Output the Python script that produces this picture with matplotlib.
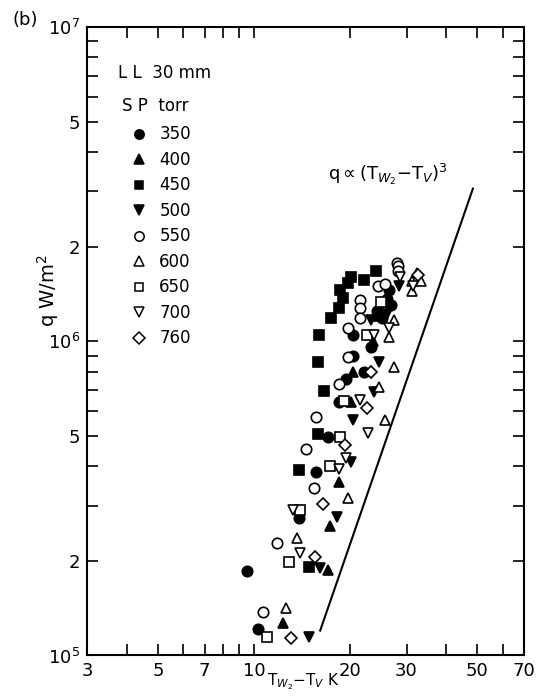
import matplotlib
matplotlib.use("Agg")
from matplotlib import pyplot as plt
from matplotlib.ticker import FixedLocator, FixedFormatter, NullFormatter
from matplotlib.lines import Line2D

# superheat T_W2 - T_V (K) and heat flux q (W/m2), one pair of lists per pressure
PRESSURES = ["350", "400", "450", "500", "550", "600", "650", "700", "760"]

dt_350 = [9.5, 10.3, 13.8, 15.6, 17.0, 18.4, 19.4, 20.4, 20.4, 22.1, 23.3, 25.1, 26.0, 26.5, 26.9, 24.2]
q_350 = [1.86e5, 1.21e5, 2.74e5, 3.84e5, 4.96e5, 6.42e5, 7.6e5, 9.0e5, 1.05e6, 8.0e5, 9.6e5, 1.19e6, 1.36e6, 1.46e6, 1.30e6, 1.25e6]

dt_400 = [12.3, 17.0, 17.3, 18.4, 20.1, 20.4, 23.5, 24.5, 26.0]
q_400 = [1.27e5, 1.87e5, 2.58e5, 3.57e5, 6.42e5, 8.0e5, 1.0e6, 1.2e6, 1.33e6]

dt_450 = [14.9, 13.8, 15.9, 16.6, 15.9, 16.0, 17.4, 18.4, 19.0, 18.6, 19.7, 20.1, 22.1, 24.0]
q_450 = [1.91e5, 3.9e5, 5.06e5, 6.94e5, 8.6e5, 1.045e6, 1.19e6, 1.28e6, 1.37e6, 1.46e6, 1.53e6, 1.60e6, 1.57e6, 1.67e6]

dt_500 = [14.9, 16.1, 18.2, 20.1, 20.4, 23.8, 24.6, 23.3, 28.5, 26.0]
q_500 = [1.145e5, 1.90e5, 2.76e5, 4.13e5, 5.62e5, 6.9e5, 8.6e5, 1.17e6, 1.50e6, 1.22e6]

dt_550 = [10.7, 11.8, 14.5, 15.4, 15.6, 18.4, 19.7, 19.7, 21.4, 21.4, 21.4, 24.5, 25.6, 28.1, 28.3, 28.3]
q_550 = [1.375e5, 2.28e5, 4.55e5, 3.42e5, 5.74e5, 7.32e5, 8.93e5, 1.10e6, 1.355e6, 1.28e6, 1.19e6, 1.50e6, 1.52e6, 1.78e6, 1.73e6, 1.67e6]

dt_600 = [12.6, 13.6, 19.7, 25.6, 24.6, 27.5, 26.5, 27.5, 32.3, 31.1, 33.2, 31.1]
q_600 = [1.42e5, 2.37e5, 3.17e5, 5.62e5, 7.16e5, 8.29e5, 1.033e6, 1.17e6, 1.65e6, 1.55e6, 1.55e6, 1.44e6]

dt_650 = [11.0, 12.9, 13.9, 17.3, 18.6, 19.1, 22.5, 25.0]
q_650 = [1.145e5, 1.99e5, 2.91e5, 4.02e5, 4.96e5, 6.47e5, 1.05e6, 1.33e6]

dt_700 = [13.9, 13.2, 18.5, 19.4, 21.4, 22.8, 23.7, 26.5, 28.7, 31.5]
q_700 = [2.12e5, 2.91e5, 3.93e5, 4.26e5, 6.51e5, 5.10e5, 1.045e6, 1.10e6, 1.60e6, 1.50e6]

dt_760 = [13.05, 15.5, 16.4, 19.3, 22.5, 23.3, 32.5]
q_760 = [1.14e5, 2.06e5, 3.04e5, 4.69e5, 6.14e5, 8.0e5, 1.62e6]

# q ~ (T_W2 - T_V)^3 guide line
line_dt = [16.1, 48.4]
line_q = [1.2e5, 3.06e6]

SERIES = [(dt_350, q_350), (dt_400, q_400), (dt_450, q_450), (dt_500, q_500),
          (dt_550, q_550), (dt_600, q_600), (dt_650, q_650), (dt_700, q_700),
          (dt_760, q_760)]
MARKERS = ["o", "^", "s", "v", "o", "^", "s", "v", "D"]
FILLED = [True, True, True, True, False, False, False, False, False]
SIZES = [7.5, 7.5, 6.5, 7.5, 7.5, 7.5, 6.5, 7.5, 6.5]

X_MAJOR = [3, 5, 7, 10, 20, 30, 50, 70]
X_MINOR = [4, 6, 8, 9, 40, 60]
Y_MAJOR = [1e5, 2e5, 5e5, 1e6, 2e6, 5e6, 1e7]
Y_LABELS = ["$10^5$", "2", "5", "$10^6$", "2", "5", "$10^7$"]
Y_MINOR = [3e5, 4e5, 6e5, 7e5, 8e5, 9e5, 3e6, 4e6, 6e6, 7e6, 8e6, 9e6]

plt.rcParams["font.family"] = "DejaVu Sans"
plt.rcParams["mathtext.fontset"] = "dejavusans"

fig = plt.figure(figsize=(5.37, 6.98), dpi=100)
ax = fig.add_axes([0.162, 0.0609, 0.814, 0.9004])
ax.set_xscale("log")
ax.set_yscale("log")
ax.set_xlim(3, 70)
ax.set_ylim(1e5, 1e7)

handles = []
for (xs, ys), m, filled, ms, p in zip(SERIES, MARKERS, FILLED, SIZES, PRESSURES):
  face = "black" if filled else "white"
  ax.plot(xs, ys, linestyle="none", marker=m, markersize=ms, markerfacecolor=face,
          markeredgecolor="black", markeredgewidth=1.2)
  handles.append(Line2D([], [], linestyle="none", marker=m, markersize=ms * 0.9,
                        markerfacecolor=face, markeredgecolor="black",
                        markeredgewidth=1.1, label=p))

ax.plot(line_dt, line_q, color="black", linewidth=1.5)

ax.text(17.0, 3.4e6, r"q$\propto$(T$_{W_2}$$-$T$_V$)$^3$", fontsize=13, va="center")
ax.text(0.07, 0.9275, "L L  30 mm", transform=ax.transAxes, fontsize=12, va="center")
ax.text(0.08, 0.875, "S P  torr", transform=ax.transAxes, fontsize=12, va="center")

leg = ax.legend(handles=handles, loc="upper left",
                bbox_to_anchor=(0.07, 0.862), frameon=False, fontsize=12,
                labelspacing=0.45, handletextpad=0.6,
                handlelength=1.2, borderpad=0.2)

ax.xaxis.set_major_locator(FixedLocator(X_MAJOR))
ax.xaxis.set_major_formatter(FixedFormatter([str(v) for v in X_MAJOR]))
ax.xaxis.set_minor_locator(FixedLocator(X_MINOR))
ax.xaxis.set_minor_formatter(NullFormatter())
ax.yaxis.set_major_locator(FixedLocator(Y_MAJOR))
ax.yaxis.set_major_formatter(FixedFormatter(Y_LABELS))
ax.yaxis.set_minor_locator(FixedLocator(Y_MINOR))
ax.yaxis.set_minor_formatter(NullFormatter())

ax.tick_params(which="both", direction="in", top=True, right=True,
               length=8, width=1.2, labelsize=13, pad=5)
for spine in ax.spines.values():
  spine.set_linewidth(1.5)

# decade ticks drawn longer, as in the original
for t in ax.xaxis.get_major_ticks():
  if t.get_loc() == 10:
    t.tick1line.set_markersize(14)
for t in ax.yaxis.get_major_ticks():
  if t.get_loc() == 1e6:
    t.tick1line.set_markersize(14)

ax.set_ylabel(r"q W/m$^2$", fontsize=14)
ax.yaxis.set_label_coords(-0.06, 0.58)
ax.set_xlabel(r"T$_{W_2}$$-$T$_V$ K", fontsize=11)
ax.xaxis.set_label_coords(0.494, -0.026)

fig.text(0.024, 0.972, "(b)", fontsize=13, va="center")

fig.savefig("out.png", dpi=100)
